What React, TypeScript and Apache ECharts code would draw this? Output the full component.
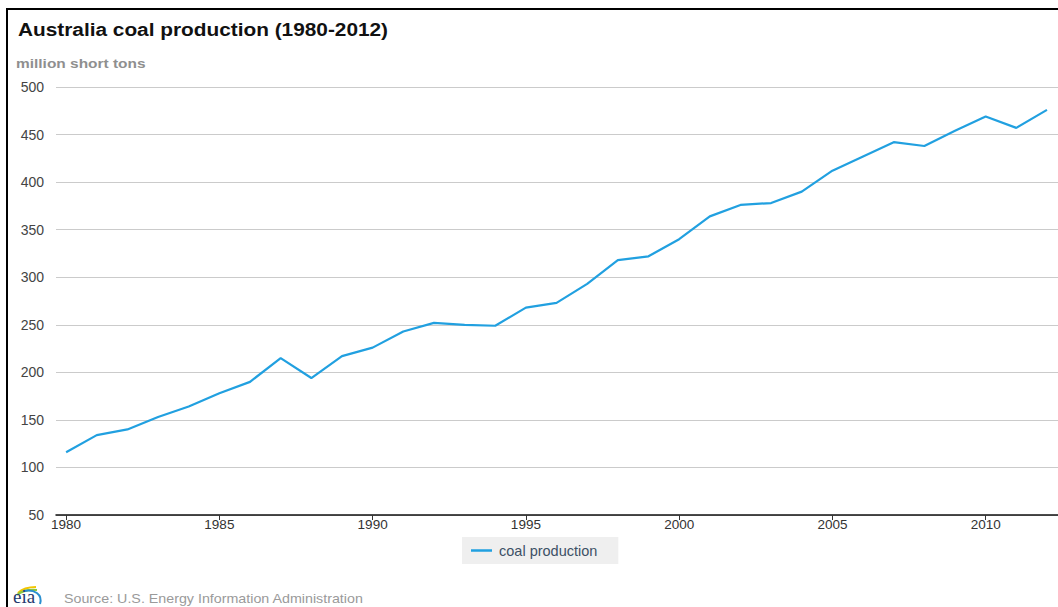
import React, { useEffect, useRef } from "react";
import * as echarts from "echarts";

// Annual coal production, million short tons
const years: number[] = [
  1980, 1981, 1982, 1983, 1984, 1985, 1986, 1987, 1988, 1989, 1990,
  1991, 1992, 1993, 1994, 1995, 1996, 1997, 1998, 1999, 2000,
  2001, 2002, 2003, 2004, 2005, 2006, 2007, 2008, 2009, 2010, 2011, 2012,
];
const coalProduction: number[] = [
  116, 134, 140, 153, 164, 178, 190, 215, 194, 217, 226,
  243, 252, 250, 249, 268, 273, 293, 318, 322, 340,
  364, 376, 378, 390, 412, 427, 442, 438, 454, 469, 457, 476,
];
const yearTicks: number[] = [1980, 1985, 1990, 1995, 2000, 2005, 2010];

const TITLE = "Australia coal production (1980-2012)";
const UNIT = "million short tons";
const SERIES_NAME = "coal production";
const SOURCE = "Source: U.S. Energy Information Administration";

const FONT = "'Liberation Sans', Arial, Helvetica, sans-serif";
const LINE_BLUE = "#21a0e0";
// the lettering of this chart is set a little wide
const WIDE = 1.19;

export default function App() {
  const ref = useRef<HTMLDivElement>(null);

  useEffect(() => {
    if (!ref.current) return;
    const chart = echarts.init(ref.current, null, { renderer: "svg" });

    const points = years.map((y, i) => [y, coalProduction[i]]);

    chart.setOption({
      animation: false,
      backgroundColor: "#ffffff",
      textStyle: { fontFamily: FONT },
      grid: { left: 56, right: 0, top: 87, bottom: 92 },
      xAxis: {
        type: "value",
        min: 1979.67,
        max: 2012.36,
        axisLine: { show: true, lineStyle: { color: "#111", width: 1.5 } },
        axisTick: {
          show: true,
          length: 5,
          customValues: yearTicks,
          lineStyle: { color: "#333", width: 1 },
        },
        axisLabel: {
          customValues: yearTicks,
          formatter: (v: number) => String(v),
          margin: 2,
          fontSize: 13.5,
          color: "#333",
          fontFamily: FONT,
        },
        splitLine: { show: false },
      },
      yAxis: {
        type: "value",
        min: 50,
        max: 500,
        interval: 50,
        axisLine: { show: false },
        axisTick: { show: false },
        axisLabel: {
          margin: 12,
          fontSize: 14,
          color: "#444",
          fontFamily: FONT,
        },
        splitLine: { show: true, lineStyle: { color: "#cbcbcb", width: 1 } },
      },
      legend: {
        data: [SERIES_NAME],
        left: 462,
        top: 537,
        backgroundColor: "#efefef",
        padding: [6, 21, 6, 9],
        icon: "rect",
        itemWidth: 21,
        itemHeight: 2.5,
        textStyle: {
          color: "#3d5166",
          fontSize: 14.5,
          fontFamily: FONT,
          padding: [0, 0, 0, 2],
        },
      },
      series: [
        {
          name: SERIES_NAME,
          type: "line",
          data: points,
          symbol: "none",
          showSymbol: false,
          lineStyle: { color: LINE_BLUE, width: 2.2 },
          itemStyle: { color: LINE_BLUE },
        },
      ],
      graphic: [
        // frame edges
        {
          type: "line",
          shape: { x1: 6, y1: 9, x2: 1058, y2: 9 },
          style: { stroke: "#000", lineWidth: 2 },
        },
        {
          type: "line",
          shape: { x1: 7, y1: 8, x2: 7, y2: 607 },
          style: { stroke: "#000", lineWidth: 2 },
        },
        {
          type: "text",
          x: 18,
          y: 21,
          scaleX: WIDE,
          style: {
            text: TITLE,
            fontSize: 17.5,
            fontWeight: "bold",
            fill: "#111",
            fontFamily: FONT,
          },
        },
        {
          type: "text",
          x: 16,
          y: 57,
          scaleX: WIDE,
          style: {
            text: UNIT,
            fontSize: 13,
            fontWeight: "bold",
            fill: "#8f8f8f",
            fontFamily: FONT,
          },
        },
        // eia mark: three swooshes over the lettering
        {
          type: "bezierCurve",
          shape: { x1: 18, y1: 593, cpx1: 24, cpy1: 587, x2: 36, y2: 587 },
          style: { stroke: "#f2c500", lineWidth: 2.2, fill: null },
        },
        {
          type: "bezierCurve",
          shape: { x1: 17, y1: 595, cpx1: 24, cpy1: 589, x2: 37, y2: 590 },
          style: { stroke: "#8dc63f", lineWidth: 2.2, fill: null },
        },
        {
          type: "bezierCurve",
          shape: {
            x1: 24, y1: 591,
            cpx1: 34, cpy1: 589,
            cpx2: 43, cpy2: 594,
            x2: 40, y2: 604,
          },
          style: { stroke: "#2a8fd0", lineWidth: 2, fill: null },
        },
        {
          type: "text",
          x: 13,
          y: 587,
          style: {
            text: "eia",
            fontSize: 19,
            fill: "#1f3a6e",
            fontFamily: "'Liberation Serif', 'DejaVu Serif', serif",
          },
        },
        {
          type: "text",
          x: 64,
          y: 593,
          scaleX: WIDE,
          style: {
            text: SOURCE,
            fontSize: 12,
            fill: "#9a9a9a",
            fontFamily: FONT,
          },
        },
      ],
    });

    return () => chart.dispose();
  }, []);

  return (
    <div
      ref={ref}
      style={{ position: "fixed", left: 0, top: 0, width: 1058, height: 607 }}
    />
  );
}
